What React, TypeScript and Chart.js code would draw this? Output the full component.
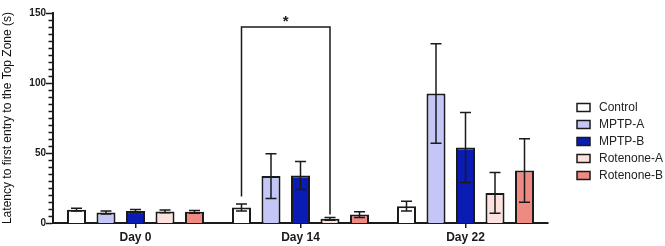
import React, { useEffect, useRef } from 'react';
import { Chart, registerables } from 'chart.js';

Chart.register(...registerables);

// Time points and groups
const days = ['Day 0', 'Day 14', 'Day 22'];
const groups = ['Control', 'MPTP-A', 'MPTP-B', 'Rotenone-A', 'Rotenone-B'];

// Mean latency (s) and SEM per group, one entry per day
const controlMean = [9.5, 11, 12];
const controlErr = [1, 2.5, 3.5];
const mptpAMean = [7.5, 33.5, 92.5];
const mptpAErr = [1, 16, 35.5];
const mptpBMean = [8.5, 34, 54];
const mptpBErr = [1.2, 10, 25];
const rotAMean = [8.3, 3, 21.5];
const rotAErr = [1, 1, 14.5];
const rotBMean = [8, 6, 37.5];
const rotBErr = [1, 2, 22.7];

const fills = ['#ffffff', '#c3c6f6', '#0a1cb3', '#fbe2de', '#ee8a82'];

// Y axis range and tick spacing
const yMax = 150;
const yMajorStep = 50;
const yMinorStep = 5;

// Significance bracket: Control vs Rotenone-A on Day 14
const sigDayIndex = 1;
const sigFromGroup = 0;
const sigToGroup = 3;
const sigTop = 140;
const sigFromEnd = 19;
const sigToEnd = 6;
const sigLabel = '*';

const means = [controlMean, mptpAMean, mptpBMean, rotAMean, rotBMean];
const errs = [controlErr, mptpAErr, mptpBErr, rotAErr, rotBErr];

const FONT = 'Arial, "Liberation Sans", sans-serif';
const INK = '#1a1a1a';

const decorations = {
  id: 'decorations',
  afterDatasetsDraw(chart: any) {
    const ctx = chart.ctx;
    const y = chart.scales.y;
    ctx.save();
    ctx.strokeStyle = INK;
    ctx.lineWidth = 1.5;
    // error bars (both directions) with caps
    const cap = 5.5;
    chart.data.datasets.forEach((ds: any, i: number) => {
      const meta = chart.getDatasetMeta(i);
      meta.data.forEach((bar: any, j: number) => {
        const m = means[i][j];
        const e = errs[i][j];
        const x = bar.x;
        const yt = y.getPixelForValue(m + e);
        const yb = y.getPixelForValue(Math.max(0, m - e));
        ctx.beginPath();
        ctx.moveTo(x, yt);
        ctx.lineTo(x, yb);
        ctx.moveTo(x - cap, yt);
        ctx.lineTo(x + cap, yt);
        ctx.moveTo(x - cap, yb);
        ctx.lineTo(x + cap, yb);
        ctx.stroke();
      });
    });
    ctx.restore();
  },
  afterDraw(chart: any) {
    const ctx = chart.ctx;
    const y = chart.scales.y;
    const area = chart.chartArea;
    ctx.save();
    ctx.strokeStyle = INK;
    ctx.lineWidth = 1.5;

    // y axis major/minor tick marks
    ctx.beginPath();
    for (let v = 0; v <= yMax; v += yMinorStep) {
      const py = Math.round(y.getPixelForValue(v)) + 0.5;
      const len = v % yMajorStep === 0 ? 6 : 3.5;
      ctx.moveTo(area.left - 1, py);
      ctx.lineTo(area.left - 1 - len, py);
    }
    ctx.stroke();

    // significance bracket
    const a = chart.getDatasetMeta(sigFromGroup).data[sigDayIndex];
    const b = chart.getDatasetMeta(sigToGroup).data[sigDayIndex];
    const top = y.getPixelForValue(sigTop);
    ctx.beginPath();
    ctx.moveTo(a.x, y.getPixelForValue(sigFromEnd));
    ctx.lineTo(a.x, top);
    ctx.lineTo(b.x, top);
    ctx.lineTo(b.x, y.getPixelForValue(sigToEnd));
    ctx.stroke();
    ctx.fillStyle = INK;
    ctx.font = `bold 15px ${FONT}`;
    ctx.textAlign = 'center';
    ctx.textBaseline = 'alphabetic';
    ctx.fillText(sigLabel, (a.x + b.x) / 2, top - 1);

    // legend
    const lx = area.right + 29;
    const ly = 107.5;
    const step = 17;
    ctx.font = `12px ${FONT}`;
    ctx.textAlign = 'left';
    ctx.textBaseline = 'middle';
    groups.forEach((g, i) => {
      const cy = ly + i * step;
      ctx.fillStyle = fills[i];
      ctx.fillRect(lx, cy - 4, 13, 8);
      ctx.strokeStyle = INK;
      ctx.lineWidth = 1.5;
      ctx.strokeRect(lx, cy - 4, 13, 8);
      ctx.fillStyle = '#222';
      ctx.fillText(g, lx + 22, cy);
    });
    ctx.restore();
  },
};

export default function App() {
  const canvasRef = useRef<HTMLCanvasElement | null>(null);

  useEffect(() => {
    document.body.style.margin = '0';
    Chart.defaults.font.family = FONT;
    const canvas = canvasRef.current;
    if (!canvas) return;
    const chart = new Chart(canvas, {
      type: 'bar',
      data: {
        labels: days,
        datasets: groups.map((g, i) => ({
          label: g,
          data: means[i],
          backgroundColor: fills[i],
          borderColor: INK,
          borderWidth: 2,
          categoryPercentage: 0.894,
          barPercentage: 0.645,
        })),
      },
      options: {
        responsive: false,
        animation: false,
        layout: { padding: { top: 11, right: 117, left: 0, bottom: 0 } },
        plugins: {
          legend: { display: false },
          tooltip: { enabled: false },
        },
        scales: {
          x: {
            offset: true,
            grid: {
              display: true,
              drawOnChartArea: false,
              drawTicks: true,
              tickLength: 5,
              offset: false,
              color: INK,
              lineWidth: 1.5,
            },
            border: { display: true, color: INK, width: 2 },
            ticks: {
              color: '#1a1a1a',
              padding: 2,
              font: { size: 12, weight: 'bold', family: FONT },
            },
            afterFit: (s: any) => {
              s.height = 23;
            },
          },
          y: {
            min: 0,
            max: yMax,
            grid: { display: false, drawTicks: false },
            border: { display: true, color: INK, width: 2 },
            ticks: {
              stepSize: yMajorStep,
              color: '#1a1a1a',
              padding: 7,
              font: { size: 10, weight: 'bold', family: FONT },
            },
            title: {
              display: true,
              text: 'Latency to first entry to the Top Zone (s)',
              color: '#111',
              padding: 0,
              font: { size: 12, family: FONT },
            },
            afterFit: (s: any) => {
              s.width = 53;
            },
          },
        },
      },
      plugins: [decorations],
    });
    return () => chart.destroy();
  }, []);

  return (
    <canvas
      ref={canvasRef}
      width={665}
      height={246}
      style={{ display: 'block', width: 665, height: 246 }}
    />
  );
}
